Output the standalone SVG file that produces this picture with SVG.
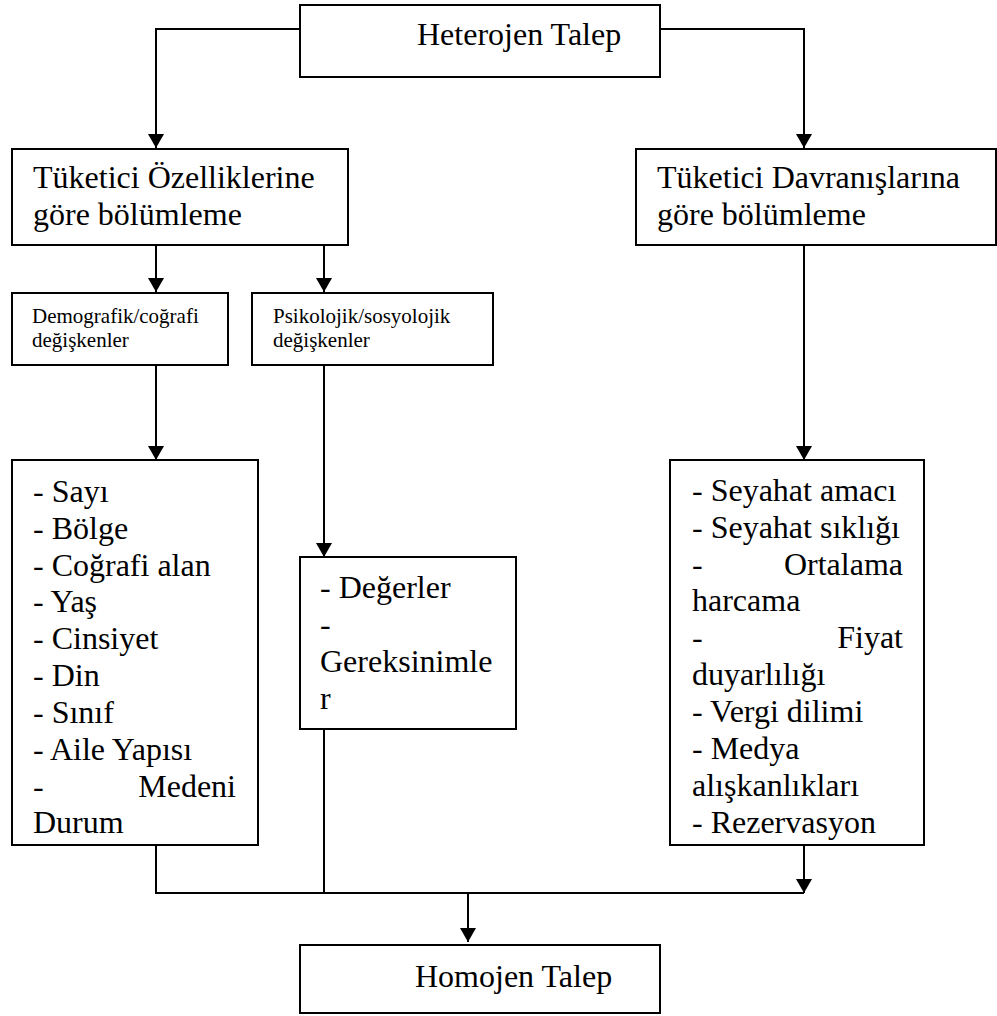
<svg xmlns="http://www.w3.org/2000/svg" width="997" height="1016" viewBox="0 0 997 1016">
<style>
.box{fill:#fff;stroke:#000;stroke-width:2}
.t{font-family:'Liberation Serif','DejaVu Serif',serif;font-size:32px;fill:#000}
.s{font-family:'Liberation Serif','DejaVu Serif',serif;font-size:21px;fill:#000}
.c{fill:none;stroke:#000;stroke-width:2}
</style>
<defs>
<marker id="ah" viewBox="0 0 14 16" refX="14" refY="8" markerWidth="14" markerHeight="16" orient="auto" markerUnits="userSpaceOnUse">
<path d="M0,0 L14,8 L0,16 z" fill="#000"/>
</marker>
</defs>
<rect width="997" height="1016" fill="#fff"/>
<g id="connectors">
<polyline class="c" points="300,29 156,29 156,148" marker-end="url(#ah)"/>
<polyline class="c" points="660,29 804,29 804,148" marker-end="url(#ah)"/>
<line class="c" x1="156" y1="245" x2="156" y2="292" marker-end="url(#ah)"/>
<line class="c" x1="324" y1="245" x2="324" y2="292" marker-end="url(#ah)"/>
<line class="c" x1="156" y1="365" x2="156" y2="460" marker-end="url(#ah)"/>
<line class="c" x1="324" y1="365" x2="324" y2="557" marker-end="url(#ah)"/>
<line class="c" x1="804" y1="245" x2="804" y2="460" marker-end="url(#ah)"/>
<polyline class="c" points="156,845 156,893 804,893"/>
<line class="c" x1="324" y1="729" x2="324" y2="893"/>
<line class="c" x1="804" y1="845" x2="804" y2="893" marker-end="url(#ah)"/>
<line class="c" x1="468" y1="893" x2="468" y2="942" marker-end="url(#ah)"/>
</g>
<g id="heterojen">
<rect class="box" x="300" y="5" width="360" height="72"/>
<text class="t" font-family="Liberation Serif, DejaVu Serif, serif" x="417" y="45">Heterojen Talep</text>
</g>
<g id="ozellik">
<rect class="box" x="12" y="149" width="336" height="96"/>
<text class="t" font-family="Liberation Serif, DejaVu Serif, serif"><tspan x="33" y="188">Tüketici Özelliklerine</tspan><tspan x="33" y="225">göre bölümleme</tspan></text>
</g>
<g id="davranis">
<rect class="box" x="636" y="149" width="360" height="96"/>
<text class="t" font-family="Liberation Serif, DejaVu Serif, serif"><tspan x="657" y="188">Tüketici Davranışlarına</tspan><tspan x="657" y="225">göre bölümleme</tspan></text>
</g>
<g id="demografik">
<rect class="box" x="12" y="293" width="216" height="72"/>
<text class="s" font-family="Liberation Serif, DejaVu Serif, serif"><tspan x="32" y="323">Demografik/coğrafi</tspan><tspan x="32" y="347">değişkenler</tspan></text>
</g>
<g id="psikolojik">
<rect class="box" x="252" y="293" width="241" height="72"/>
<text class="s" font-family="Liberation Serif, DejaVu Serif, serif"><tspan x="273" y="323">Psikolojik/sosyolojik</tspan><tspan x="273" y="347">değişkenler</tspan></text>
</g>
<g id="demolist">
<rect class="box" x="12" y="460" width="246" height="385"/>
<text class="t" font-family="Liberation Serif, DejaVu Serif, serif"><tspan x="33" y="502">- Sayı</tspan><tspan x="33" y="539">- Bölge</tspan><tspan x="33" y="576">- Coğrafi alan</tspan><tspan x="33" y="612">- Yaş</tspan><tspan x="33" y="649">- Cinsiyet</tspan><tspan x="33" y="686">- Din</tspan><tspan x="33" y="723">- Sınıf</tspan><tspan x="33" y="760">- Aile Yapısı</tspan><tspan x="33" y="797">-</tspan><tspan x="236" y="797" text-anchor="end">Medeni</tspan><tspan x="33" y="833">Durum</tspan></text>
</g>
<g id="psikolist">
<rect class="box" x="300" y="557" width="216" height="172"/>
<text class="t" font-family="Liberation Serif, DejaVu Serif, serif"><tspan x="320" y="598">- Değerler</tspan><tspan x="320" y="635">-</tspan><tspan x="320" y="672">Gereksinimle</tspan><tspan x="320" y="709">r</tspan></text>
</g>
<g id="davranislist">
<rect class="box" x="670" y="460" width="254" height="385"/>
<text class="t" font-family="Liberation Serif, DejaVu Serif, serif"><tspan x="692" y="501">- Seyahat amacı</tspan><tspan x="692" y="538">- Seyahat sıklığı</tspan><tspan x="692" y="575">-</tspan><tspan x="903" y="575" text-anchor="end">Ortalama</tspan><tspan x="692" y="611">harcama</tspan><tspan x="692" y="648">-</tspan><tspan x="903" y="648" text-anchor="end">Fiyat</tspan><tspan x="692" y="685">duyarlılığı</tspan><tspan x="692" y="722">- Vergi dilimi</tspan><tspan x="692" y="759">- Medya</tspan><tspan x="692" y="796">alışkanlıkları</tspan><tspan x="692" y="833">- Rezervasyon</tspan></text>
</g>
<g id="homojen">
<rect class="box" x="300" y="945" width="360" height="68"/>
<text class="t" font-family="Liberation Serif, DejaVu Serif, serif" x="415" y="987">Homojen Talep</text>
</g>
</svg>
